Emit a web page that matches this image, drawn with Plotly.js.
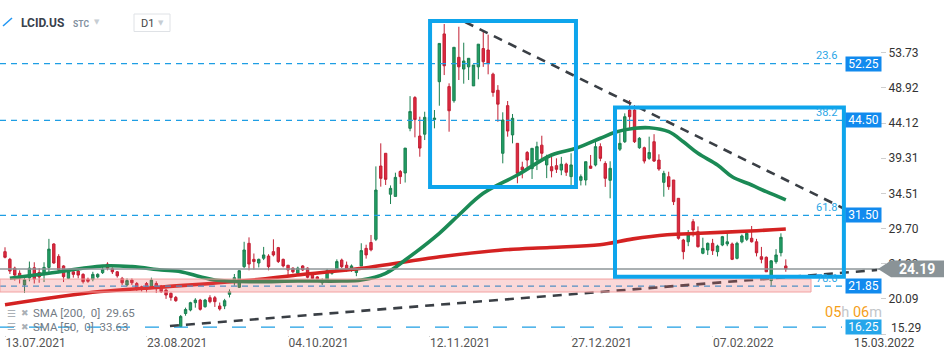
<!DOCTYPE html>
<html><head><meta charset="utf-8">
<script src="https://cdn.plot.ly/plotly-3.0.1.min.js"></script>
<style>html,body{margin:0;padding:0;background:#fff;}#chart{width:950px;height:360px;}</style>
</head><body><div id="chart"></div>
<script>
// ---------- data ----------
const symbol = 'LCID.US';
const openP = [26.55,25.50,24.30,23.60,22.00,22.95,24.35,23.70,23.45,24.40,27.60,25.90,24.60,22.90,23.80,23.90,23.45,22.80,22.77,23.10,
23.68,24.85,24.20,23.80,22.90,22.00,22.67,22.20,21.75,22.20,21.75,22.20,21.85,21.30,20.86,20.30,16.30,18.10,18.58,19.58,
19.94,19.03,20.26,20.26,19.13,19.13,20.72,22.54,21.68,24.50,27.69,25.50,25.00,25.65,25.95,26.55,27.10,25.50,24.70,24.30,
23.60,24.60,24.30,23.60,23.10,22.30,22.70,23.60,23.95,25.40,24.70,24.10,23.70,24.60,27.00,27.80,28.24,38.25,39.99,34.40,
34.10,37.50,37.30,43.40,47.60,42.35,42.60,44.40,44.60,49.77,56.30,49.10,47.17,53.10,51.50,51.80,49.20,51.80,54.30,54.10,
50.80,48.60,39.99,46.50,42.50,41.35,38.10,40.10,37.90,39.07,41.10,38.40,38.16,38.30,37.70,38.50,36.80,37.90,36.30,36.34,
38.25,38.39,40.90,38.60,36.30,37.25,40.55,41.57,45.90,45.90,40.75,40.75,39.30,41.57,39.07,36.02,36.79,36.34,33.84,28.14,
27.90,30.65,29.28,26.33,26.78,27.69,26.55,27.46,27.60,27.60,25.64,27.90,28.24,28.38,27.90,25.86,25.78,22.60,25.18,26.41,
24.60];
const highP = [27.15,25.70,24.50,24.00,23.30,25.20,25.10,24.30,25.10,28.30,27.70,26.20,24.70,24.00,24.20,24.10,23.60,23.00,23.80,23.60,
24.70,25.10,24.40,23.90,23.10,22.90,22.90,22.40,21.90,22.40,23.00,22.50,22.00,21.50,21.00,20.50,17.90,18.90,19.70,20.20,
20.10,20.10,20.60,20.50,19.60,20.10,21.40,23.50,24.00,27.90,28.50,26.30,25.60,27.20,26.20,28.24,27.20,25.60,24.70,24.40,
24.50,24.70,24.40,23.70,23.20,22.90,24.20,24.00,25.50,25.60,25.20,24.80,24.30,27.70,27.50,28.83,38.20,41.35,40.00,35.60,
37.34,37.70,40.70,47.80,47.80,44.99,45.67,45.20,45.90,55.00,57.65,49.55,54.50,57.28,55.10,53.00,52.05,54.90,56.60,56.20,
51.00,49.30,45.59,47.13,45.36,41.35,38.84,40.30,40.67,41.57,42.39,39.80,39.90,39.30,39.50,38.70,40.00,38.00,37.10,38.84,
39.76,41.80,41.35,38.90,38.90,42.10,42.72,45.45,47.27,46.58,42.20,40.90,42.26,42.60,39.85,37.60,37.47,36.34,33.84,28.30,
29.50,31.00,30.00,28.46,27.80,28.30,27.50,28.70,29.06,27.80,27.90,28.90,29.30,30.06,28.30,27.20,25.90,25.40,26.90,29.06,
25.50];
const lowP = [25.64,23.50,22.60,22.20,20.90,22.50,22.20,22.30,22.40,23.70,24.90,23.60,22.40,22.80,23.00,22.90,22.20,22.30,22.50,22.90,
23.50,24.00,23.50,23.00,22.00,21.80,22.00,21.20,21.10,21.00,21.50,20.90,20.90,20.10,19.85,19.70,16.25,17.80,18.40,18.90,
18.50,18.90,19.50,19.00,18.50,18.70,20.30,21.90,21.60,24.30,24.00,24.10,24.40,25.40,24.00,25.90,25.00,24.40,23.30,23.60,
23.30,23.90,22.90,22.80,22.60,22.00,22.50,23.40,23.80,24.30,23.80,23.80,23.20,24.60,25.60,26.60,28.00,35.43,35.66,33.06,
34.10,35.80,36.00,43.00,42.17,39.52,41.80,43.60,43.40,46.49,50.68,42.94,46.90,50.00,49.50,50.00,49.20,50.10,51.80,50.78,
47.72,44.30,38.62,42.26,41.35,35.89,36.57,37.94,36.48,37.70,39.00,36.60,36.70,37.30,37.00,36.90,35.30,36.70,35.60,35.60,
37.90,38.20,38.90,35.40,33.84,37.00,40.30,41.40,43.30,41.40,40.60,38.60,39.10,38.80,37.60,34.06,35.00,32.92,28.20,25.50,
27.30,28.60,27.10,26.20,26.10,26.10,25.90,27.30,27.30,25.40,25.50,27.70,28.00,27.80,25.90,24.96,23.80,21.90,24.90,25.90,
23.80];
const closeP = [25.78,23.90,23.35,22.95,22.70,24.30,22.80,23.10,24.40,26.90,25.00,24.04,23.13,23.80,23.45,23.35,22.45,22.50,23.45,23.45,
24.13,24.30,23.80,23.25,22.30,22.60,22.30,21.55,21.40,21.40,22.67,21.50,21.08,20.63,20.30,19.85,17.70,18.65,19.58,19.94,
18.67,19.94,19.72,19.72,18.72,19.85,21.08,23.00,23.95,26.78,24.86,25.20,25.50,26.10,24.50,26.10,25.20,24.60,24.05,23.80,
24.30,24.05,23.05,22.90,22.80,22.60,23.95,23.80,25.20,24.50,24.10,24.60,24.05,26.70,26.10,26.80,34.97,36.57,36.43,35.20,
36.70,36.80,40.70,45.70,44.60,40.70,44.90,44.90,44.80,55.00,51.95,45.80,54.47,51.80,52.60,52.97,52.05,54.90,52.50,52.30,
48.30,46.70,44.54,43.03,44.77,37.25,37.70,39.07,40.67,40.90,39.99,39.52,37.60,37.80,38.50,37.40,38.40,37.00,36.80,38.84,
37.94,40.90,39.30,36.57,37.94,42.04,41.35,44.99,44.99,41.57,42.04,38.93,40.10,38.93,37.84,37.25,35.43,33.38,28.38,26.55,
28.83,29.51,27.23,27.00,27.69,26.68,27.32,28.60,27.90,25.50,27.69,28.70,29.06,27.90,26.40,25.50,23.80,25.30,26.10,28.51,
24.19];

// x-axis: candle index -> date label
const tickIndex  = [0, 29, 58, 87, 116, 145];
const tickLabels = ['13.07.2021','23.08.2021','04.10.2021','12.11.2021','27.12.2021','07.02.2022'];
const lastDateLabel = '15.03.2022';

// y-axis ticks (the lowest label is lifted above the date, as in the reference)
const yTickVals = [15.29, 20.09, 24.89, 29.70, 34.51, 39.31, 44.12, 48.92, 53.73];
const yTickText = ['15.29','20.09','24.89','29.70','34.51','39.31','44.12','48.92','53.73'];

// moving averages (at candle index positions)
const sma50Idx = [1, 9, 20, 26, 32, 36, 40, 43, 50, 60, 69, 73, 78, 82, 89, 93, 98, 105, 112, 117, 122, 125, 129, 132, 136, 139, 142, 146, 149, 153, 156, 160];
const sma50Val = [22.91, 23.59, 24.59, 24.5, 24.05, 23.81, 23.13, 22.68, 22.45, 22.54, 22.54, 22.68, 23.6, 25.41, 29.06, 31.56, 34.52, 37.02, 39.76, 40.67, 42.04, 42.86, 43.4, 43.48, 42.94, 41.57, 39.99, 38.39, 36.79, 35.66, 34.74, 33.63];
const sma200Idx = [0, 19.5, 31.8, 52.3, 60.5, 73, 89.1, 101.4, 111.7, 121.9, 128.7, 135.7, 142.4, 152.7, 160];
const sma200Val = [19.3, 21.1, 21.7, 22.77, 23.4, 24.28, 25.86, 26.75, 27.12, 27.5, 28.3, 28.85, 29.06, 29.37, 29.65];
const legendRows = ['SMA [200,\u00a0\u00a00]\u00a0 29.65', 'SMA [50,\u00a0\u00a00]\u00a0 33.63'];

// drawing objects on the chart (price levels, fib levels, zone, trendlines, boxes)
const levelVals   = [52.25, 44.50, 31.50, 21.85, 16.25];
const levelLabels = ['52.25', '44.50', '31.50', '21.85', '16.25'];
const fibLabels   = ['23.6', '38.2', '61.8', '78.6'];
const lastPrice = 24.19;
const zoneLow = 21.04, zoneHigh = 22.81;
const trendDownIdx = [94.3, 172.1], trendDownVal = [57.92, 32.38];
const trendUpIdx = [33.8, 178.7],  trendUpVal = [16.39, 24.04];
const box1Idx = [87.1, 117.0], box1Val = [35.38, 58.06];
const box2Idx = [125.0, 171.9], box2Val = [23.13, 46.23];

// ---------- chart ----------
const idx = openP.map((_, i) => i);
const W = 880; // plot width in px
const px = p => p / W;
const yTopPx = 8, yBotPx = 335;
const py = p => (yBotPx - p) / (yBotPx - yTopPx);
const BLUE = '#1e9ee4';

const traces = [
  {type:'candlestick', x: idx, open: openP, high: highP, low: lowP, close: closeP,
   increasing:{line:{color:'#1b7f50', width:1}, fillcolor:'#22a066'},
   decreasing:{line:{color:'#c21f33', width:1}, fillcolor:'#df2a40'},
   whiskerwidth:0, hoverinfo:'skip', showlegend:false},
  {type:'scatter', mode:'lines', x: sma200Idx, y: sma200Val,
   line:{color:'#d42222', width:3.6, shape:'spline', smoothing:1}, hoverinfo:'skip'},
  {type:'scatter', mode:'lines', x: sma50Idx, y: sma50Val,
   line:{color:'#1b8a55', width:3.6, shape:'spline', smoothing:1}, hoverinfo:'skip'}
];

const shapes = [];
levelVals.forEach((v, k) => {
  shapes.push({type:'line', xref:'paper', yref:'y', x0:0, x1:px(842), y0:v, y1:v, layer:'above',
    line:{color:BLUE, width:1.2, dash: k === 4 ? '14px,15px' : '6px,5px'}});
});
shapes.push({type:'line', xref:'paper', yref:'y', x0:0, x1:1, y0:lastPrice, y1:lastPrice, layer:'above',
  line:{color:'#8e9699', width:1.5}});
shapes.push({type:'line', xref:'x', yref:'y', x0:trendDownIdx[0], x1:trendDownIdx[1], y0:trendDownVal[0], y1:trendDownVal[1],
  layer:'above', line:{color:'#3a3f45', width:2.6, dash:'9px,7px'}});
shapes.push({type:'line', xref:'x', yref:'y', x0:trendUpIdx[0], x1:trendUpIdx[1], y0:trendUpVal[0], y1:trendUpVal[1],
  layer:'above', line:{color:'#3a3f45', width:2.6, dash:'9px,7px'}});
shapes.push({type:'rect', xref:'paper', yref:'y', x0:0, x1:px(811), y0:zoneLow, y1:zoneHigh, layer:'above',
  fillcolor:'rgba(240,100,100,0.25)', line:{color:'#f2a2a2', width:1}});
shapes.push({type:'rect', xref:'x', yref:'y', x0:box1Idx[0], x1:box1Idx[1], y0:box1Val[0], y1:box1Val[1], layer:'above',
  line:{color:'#0ea5ec', width:4}});
shapes.push({type:'rect', xref:'x', yref:'y', x0:box2Idx[0], x1:box2Idx[1], y0:box2Val[0], y1:box2Val[1], layer:'above',
  line:{color:'#0ea5ec', width:4}});
// last price marker
shapes.push({type:'path', xref:'paper', yref:'y', layer:'above', fillcolor:'#8a9397', line:{width:0},
  path:`M ${px(878)},${lastPrice} L ${px(891)},${lastPrice+1.14} L ${px(944)},${lastPrice+1.14} L ${px(944)},${lastPrice-1.14} L ${px(891)},${lastPrice-1.14} Z`});
// header decorations
shapes.push({type:'line', xref:'paper', yref:'paper', x0:px(3), y0:py(26), x1:px(12), y1:py(18), line:{color:'#2196f3', width:1.5}});
shapes.push({type:'rect', xref:'paper', yref:'paper', x0:px(134), x1:px(170), y0:py(31.5), y1:py(14), line:{color:'#dfe2e6', width:1}});

const annotations = [];
levelLabels.forEach((t, k) => {
  annotations.push({xref:'paper', yref:'y', x:px(845), y:levelVals[k], xanchor:'left', yanchor:'middle',
    text:t, showarrow:false, bgcolor: k === 4 ? '#25a6ea' : '#118aee', width:33, height:12, borderpad:1,
    font:{color:'#fff', size:12, family:'Roboto'}});
});
fibLabels.forEach((t, k) => {
  annotations.push({xref:'paper', yref:'y', x:px(826), y:levelVals[k], yshift:8, xanchor:'center', yanchor:'middle',
    text:t, showarrow:false, font:{color:'#2aa6e6', size:11, family:'Roboto'}});
});
// lowest y label, drawn lifted above the date like the reference
annotations.push({xref:'paper', yref:'y', x:px(889), y:yTickVals[0], yshift:6, xanchor:'left', yanchor:'middle',
  text:yTickText[0], showarrow:false, font:{color:'#333', size:12, family:'Roboto'}});
annotations.push({xref:'paper', yref:'y', x:px(917), y:lastPrice, xanchor:'center', yanchor:'middle',
  text:'<b>' + lastPrice.toFixed(2) + '</b>', showarrow:false, font:{color:'#fff', size:14, family:'Roboto'}});
annotations.push({xref:'paper', yref:'paper', x:px(884), y:py(342.5), xanchor:'center', yanchor:'middle',
  text:lastDateLabel, showarrow:false, font:{color:'#444', size:12, family:'Roboto'}});
annotations.push({xref:'paper', yref:'paper', x:px(823), y:py(312.5), xanchor:'left', yanchor:'middle', showarrow:false,
  text:'<span style="color:#f5a01a">05</span><span style="color:#c3c6c9">h</span> <span style="color:#f5a01a">06</span><span style="color:#c3c6c9">m</span>',
  font:{size:14.5, family:'Roboto'}});
// header
annotations.push({xref:'paper', yref:'paper', x:px(19), y:py(23.3), xanchor:'left', yanchor:'middle', showarrow:false,
  text:'<b>' + symbol + '</b>', font:{color:'#39414c', size:12, family:'Roboto'}});
annotations.push({xref:'paper', yref:'paper', x:px(71), y:py(23.5), xanchor:'left', yanchor:'middle', showarrow:false,
  text:'<b>STC</b>', font:{color:'#8290a0', size:8.5, family:'Roboto'}});
annotations.push({xref:'paper', yref:'paper', x:px(97), y:py(22), xanchor:'center', yanchor:'middle', showarrow:false,
  text:'▼', font:{color:'#c7cdd3', size:7, family:'DejaVu Sans'}});
annotations.push({xref:'paper', yref:'paper', x:px(139), y:py(23.3), xanchor:'left', yanchor:'middle', showarrow:false,
  text:'D1', font:{color:'#444', size:11, family:'Roboto'}});
annotations.push({xref:'paper', yref:'paper', x:px(161), y:py(23), xanchor:'center', yanchor:'middle', showarrow:false,
  text:'▼', font:{color:'#c7cdd3', size:7, family:'DejaVu Sans'}});
// legend rows
legendRows.forEach((t, k) => {
  const yy = k === 0 ? 313.3 : 326.5;
  annotations.push({xref:'paper', yref:'paper', x:px(5), y:py(yy), xanchor:'left', yanchor:'middle', showarrow:false,
    text:'<span style="color:#aab0b6">☰</span>', font:{size:10, family:'DejaVu Sans'}});
  annotations.push({xref:'paper', yref:'paper', x:px(19), y:py(yy), xanchor:'left', yanchor:'middle', showarrow:false,
    text:'<span style="color:#aab0b6">✖</span>', font:{size:9, family:'DejaVu Sans'}});
  annotations.push({xref:'paper', yref:'paper', x:px(31), y:py(yy), xanchor:'left', yanchor:'middle', showarrow:false,
    text:t, font:{color:'#737b84', size:11.5, family:'Roboto'}});
});

const layout = {
  width:950, height:360,
  margin:{l:0, r:950 - W, t:yTopPx, b:360 - yBotPx, pad:0},
  paper_bgcolor:'#ffffff', plot_bgcolor:'#ffffff',
  font:{family:'Roboto, "Open Sans", sans-serif', color:'#333'},
  showlegend:false, hovermode:false,
  xaxis:{range:[-1.025, 179.3], showgrid:false, zeroline:false, showline:false,
    tickmode:'array', tickvals:tickIndex, ticktext:tickLabels,
    ticks:'outside', ticklen:1, tickcolor:'#cfcfcf', ticklabelposition:'outside right', ticklabelstandoff:-3,
    tickfont:{size:12, color:'#555'}, rangeslider:{visible:false}, fixedrange:true},
  yaxis:{side:'right', range:[15.165, 59.84], showgrid:false, zeroline:false, showline:false,
    tickmode:'array', tickvals:yTickVals, ticktext:[''].concat(yTickText.slice(1)),
    ticks:'outside', ticklen:5, tickcolor:'#cfcfcf',
    tickfont:{size:12, color:'#333'}, fixedrange:true},
  shapes:shapes, annotations:annotations
};

Plotly.newPlot('chart', traces, layout, {staticPlot:true, displayModeBar:false});
</script>
</body></html>
